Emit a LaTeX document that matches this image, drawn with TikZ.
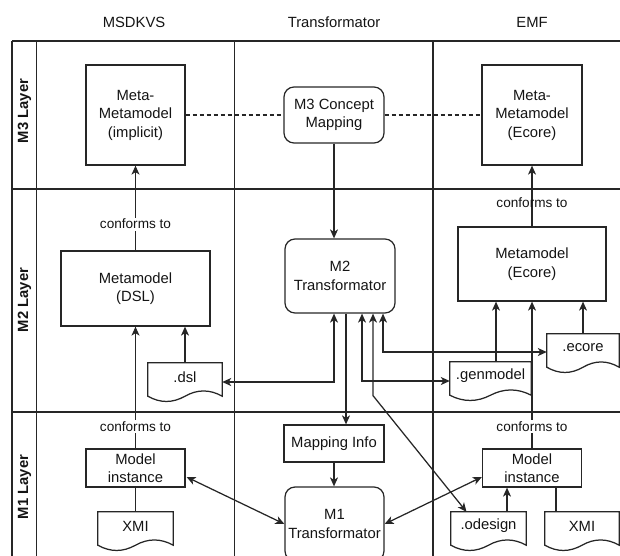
\documentclass[tikz,border=0pt]{standalone}
\usepackage{fontspec}
\setmainfont{Liberation Sans}
\usetikzlibrary{arrows.meta,calc}
\newcommand\docoutline[1]{%
  \draw[docline] (#1.north west) -- (#1.north east) -- ($(#1.south east)+(0,5)$)
    .. controls ($(#1.south east)!0.1667!(#1.south west)+(0,-2)$) and ($(#1.south east)!0.3333!(#1.south west)+(0,-2)$) .. ($(#1.south east)!0.5!(#1.south west)+(0,5)$)
    .. controls ($(#1.south east)!0.6667!(#1.south west)+(0,12)$) and ($(#1.south east)!0.8333!(#1.south west)+(0,12)$) .. ($(#1.south west)+(0,5)$) -- cycle;}
\begin{document}
\begin{tikzpicture}[x=1pt,y=-1pt,
  every node/.style={font=\fontsize{14.8}{18.5}\selectfont, text=black!92},
  box/.style={draw=black!85, line width=1.25pt, align=center, inner sep=0pt},
  rbox/.style={box, rounded corners=10pt},
  docnode/.style={align=center, inner sep=0pt},
  docline/.style={draw=black!85, line width=1.25pt},
  lane/.style={draw=black!85, line width=1.25pt},
  conn/.style={draw=black!85, line width=1.25pt},
  tip/.tip={Stealth[length=9pt,width=8pt,inset=2.5pt]},
  arr/.style={conn, -tip},
  darr/.style={conn, tip-tip},
  dashconn/.style={conn, dash pattern=on 4pt off 3pt},
  lbl/.style={font=\fontsize{13.6}{16}\selectfont, fill=white, inner sep=1.5pt},
  hdr/.style={font=\fontsize{14.8}{17.5}\selectfont},
  layer/.style={font=\bfseries\fontsize{14.8}{17.5}\selectfont, rotate=90},
]
\useasboundingbox (0,0) rectangle (620,555);
\clip (0,0) rectangle (620,555);
% lanes
\draw[lane] (12,41) -- (640,41);
\draw[lane] (12,189) -- (640,189);
\draw[lane] (12,412) -- (640,412);
\draw[lane] (12,41) -- (12,580);
\draw[lane] (36.5,41) -- (36.5,580);
\draw[lane] (234.5,41) -- (234.5,580);
\draw[lane] (433,41) -- (433,580);
% headers
\node[hdr] (h1) at (134,22) {MSDKVS};
\node[hdr] (h2) at (334,22) {Transformator};
\node[hdr] (h3) at (532,22) {EMF};
\node[layer] (l3) at (24.5,111) {M3 Layer};
\node[layer] (l2) at (24.5,300) {M2 Layer};
\node[layer] (l1) at (24.5,487) {M1 Layer};
% M3
\node[box, minimum width=99pt, minimum height=100pt] (mmi) at (135.5,115) {Meta-\\Metamodel\\(implicit)};
\node[rbox, minimum width=100pt, minimum height=56pt] (m3c) at (334,115) {M3 Concept\\Mapping};
\node[box, minimum width=100pt, minimum height=100pt] (mme) at (532,115) {Meta-\\Metamodel\\(Ecore)};
% M2
\node[box, minimum width=149pt, minimum height=75pt] (mmdsl) at (135.5,288.5) {Metamodel\\(DSL)};
\node[rbox, minimum width=110pt, minimum height=74pt] (m2t) at (340,276) {M2\\Transformator};
\node[box, minimum width=148pt, minimum height=74pt] (mmec) at (532,264) {Metamodel\\(Ecore)};
\node[docnode, minimum width=74pt, minimum height=28pt] (dsl) at (185,377) {.dsl};
\node[docnode, minimum width=81pt, minimum height=28pt] (genm) at (490.5,376) {.genmodel};
\node[docnode, minimum width=72pt, minimum height=28pt] (ecf) at (583,348) {.ecore};
% M1
\node[box, minimum width=99pt, minimum height=38pt] (mil) at (135.5,468) {Model\\instance};
\node[box, minimum width=100pt, minimum height=37pt] (mapi) at (334,443.5) {Mapping Info};
\node[rbox, minimum width=99pt, minimum height=74pt] (m1t) at (334.5,524) {M1\\Transformator};
\node[box, minimum width=99pt, minimum height=38pt] (mir) at (532,468) {Model\\instance};
\node[docnode, minimum width=75pt, minimum height=28pt] (xmil) at (135.5,526) {XMI};
\node[docnode, minimum width=75pt, minimum height=28pt] (odes) at (488.5,526) {.odesign};
\node[docnode, minimum width=74pt, minimum height=28pt] (xmir) at (582,526) {XMI};
\docoutline{dsl}
\docoutline{genm}
\docoutline{ecf}
\docoutline{xmil}
\docoutline{odes}
\docoutline{xmir}
% connectors
\draw[arr] (mmdsl.north) -- node[lbl, pos=0.31]{conforms to} (mmi.south);
\draw[arr] (mmec.north) -- node[lbl, fill=none, pos=0.39]{conforms to} (mme.south);
\draw[arr] (mil.north) -- node[lbl, pos=0.18]{conforms to} (mmdsl.south);
\draw[arr] (mir.north) -- node[lbl, pos=0.15]{conforms to} (mmec.south);
\draw[arr] (dsl.north) -- (dsl.north |- mmdsl.south);
\draw[arr] ([xshift=5.5pt]genm.north) -- ([xshift=5.5pt]genm.north |- mmec.south);
\draw[arr] (ecf.north) -- (ecf.north |- mmec.south);
\draw[conn] (mil.south) -- (xmil.north);
\draw[conn] ([xshift=24pt]mir.south) -- ([xshift=24pt]mir.south |- xmir.north);
\draw[arr] ([xshift=18.5pt]odes.north) -- ([xshift=18.5pt]odes.north |- mir.south);
\draw[dashconn] (mmi.east) -- (m3c.west);
\draw[dashconn] (m3c.east) -- (mme.west);
\draw[arr] (m3c.south) -- (m3c.south |- m2t.north);
\draw[darr] ([xshift=-6pt]m2t.south) |- ($(dsl.east)+(0,5)$);
\draw[arr] ([xshift=6pt]m2t.south) -- ([xshift=6pt]m2t.south |- mapi.north);
\draw[darr] ([xshift=22pt]m2t.south) |- ($(genm.west)+(0,5)$);
\draw[darr] ([xshift=33pt]m2t.south) -- ++(0,82) -- ($(odes.north)+(-22,0)$);
\draw[darr] ([xshift=43pt]m2t.south) |- ($(ecf.west)+(0,4)$);
\draw[arr] (mapi.south) -- (mapi.south |- m1t.north);
\draw[darr] ($(mil.east)+(1,9)$) -- (m1t.west);
\draw[darr] (m1t.east) -- ($(mir.west)+(0,9)$);
\end{tikzpicture}
\end{document}
